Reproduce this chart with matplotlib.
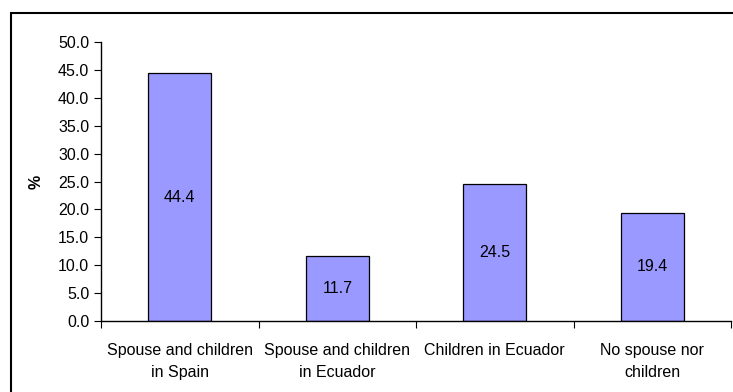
import matplotlib
matplotlib.use("Agg")
import matplotlib.pyplot as plt
from matplotlib.patches import Rectangle
import numpy as np

plt.rcParams['font.family'] = ['Liberation Sans', 'DejaVu Sans']

categories = ["Spouse and children\nin Spain", "Spouse and children\nin Ecuador",
              "Children in Ecuador", "No spouse nor\nchildren"]
values = [44.4, 11.7, 24.5, 19.4]
yticks = [0, 5, 10, 15, 20, 25, 30, 35, 40, 45, 50]

fig = plt.figure(figsize=(7.33, 3.92), dpi=100)
ax = fig.add_axes([101 / 733, 1 - 321 / 392, 630 / 733, 279 / 392])

x = np.arange(len(categories))
ax.bar(x, values, width=0.4, color="#9999FF", edgecolor="black", linewidth=0.9, zorder=2)
for xi, v in zip(x, values):
    ax.text(xi, v / 2, f"{v:.1f}", ha="center", va="center", fontsize=11.5, color="black")

ax.set_xlim(-0.5, len(categories) - 0.5)
ax.set_ylim(0, 50)
ax.set_yticks(yticks)
ax.set_yticklabels([f"{t:.1f}" for t in yticks], fontsize=11.5)
ax.set_xticks(np.arange(-0.5, len(categories)), minor=False)
ax.set_xticklabels([])
ax.set_xticks(x, minor=True)
ax.set_xticklabels(categories, minor=True, fontsize=11.5, linespacing=1.55)
ax.tick_params(axis="x", which="minor", length=0, pad=16)
ax.tick_params(axis="x", which="major", length=5, direction="out")
ax.tick_params(axis="y", length=5, direction="out")
for s in ["top", "right"]:
    ax.spines[s].set_visible(False)
for s in ["left", "bottom"]:
    ax.spines[s].set_linewidth(1.0)
ax.set_ylabel("%", fontsize=11.5, fontweight="bold", labelpad=10)

# outer chart frame
fig.patches.append(Rectangle((11 / 733, -0.05), 1.0, 1 - 13 / 392 + 0.05,
                             transform=fig.transFigure, fill=False,
                             edgecolor="black", linewidth=1.5))

fig.savefig("out.png", dpi=100)
